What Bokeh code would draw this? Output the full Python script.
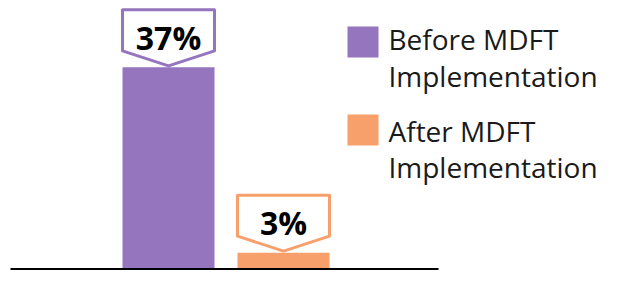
from bokeh.plotting import figure
from bokeh.models import Range1d
from bokeh.embed import file_html
from bokeh.resources import INLINE
from bokeh.core.properties import value

# ---- data ----
categories = ["Before MDFT\nImplementation", "After MDFT\nImplementation"]
percent_values = [37, 3]
value_labels = ["37%", "3%"]
bar_colors = ["#9575bd", "#f8a06b"]

# ---- layout constants (pixels) ----
W, H = 602, 270
PX_X = 115.0   # pixels per category step
PX_Y = 5.45    # pixels per percentage point
X0 = 168.0     # canvas x of first category centre
Y0 = 268.5     # canvas y of the zero line
TXT_FIX = 12.0 # baseline correction for text rendering

x_start = -X0 / PX_X
y_start = -(H - Y0) / PX_Y


def ux(px):
    return (px - X0) / PX_X


def uy(py):
    return (Y0 - py) / PX_Y


p = figure(width=W, height=H,
           x_range=Range1d(x_start, x_start + W / PX_X),
           y_range=Range1d(y_start, y_start + H / PX_Y),
           x_axis_type=None, y_axis_type=None,
           output_backend="svg", toolbar_location=None,
           min_border=0, outline_line_color=None)
p.grid.visible = False
p.background_fill_color = "white"
p.border_fill_color = "white"

xs = list(range(len(percent_values)))
bar_w = 0.8

# bars
p.vbar(x=xs, top=percent_values, bottom=0, width=bar_w,
       fill_color=bar_colors, line_color=None)

# baseline
p.line([ux(10), ux(438)], [0, 0], line_color="black", line_width=2)

# callout boxes
half = bar_w / 2
tip_off = 1.5 / PX_Y
corner_h = 15.0 / PX_Y
top_h = 56.0 / PX_Y
cx, cy = [], []
for x, v in zip(xs, percent_values):
    t = v + tip_off
    cx.append([x - half, x + half, x + half, x, x - half])
    cy.append([t + top_h, t + top_h, t + corner_h, t, t + corner_h])
p.patches(cx, cy, fill_color="white", line_color=bar_colors,
          line_width=3, line_join="round")

p.text(x=xs, y=[v + (18.0 + TXT_FIX) / PX_Y for v in percent_values],
       text=value_labels,
       text_align="center", text_baseline="alphabetic",
       text_font=value("Open Sans"), text_font_style="bold",
       text_font_size="32px", text_color="black")

# legend (manual)
sq_y = [41.5, 129.5]
p.scatter(x=[ux(362.5)] * len(categories), y=[uy(v) for v in sq_y],
          marker="square", size=31, fill_color=bar_colors, line_color=None)
line_base = [[50, 87], [142, 178]]
lx, ly, lt = [], [], []
for lab, bases in zip(categories, line_base):
    for part, b in zip(lab.split("\n"), bases):
        lx.append(ux(388))
        ly.append(uy(b - TXT_FIX))
        lt.append(part)
p.text(x=lx, y=ly, text=lt, text_align="left", text_baseline="alphabetic",
       text_font=value("Open Sans"), text_font_size="28px",
       text_color="#1a1a1a")

open("out.html", "w").write(file_html(p, INLINE))
